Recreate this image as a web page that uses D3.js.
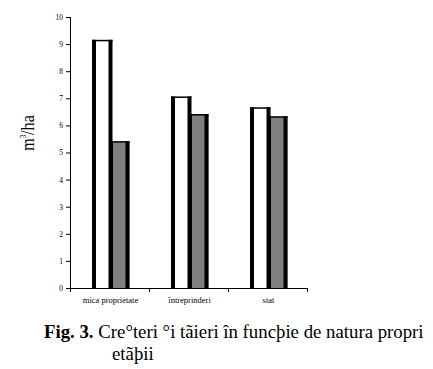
<!DOCTYPE html>
<html>
<head>
<meta charset="utf-8">
<script src="https://cdn.jsdelivr.net/npm/d3@7"></script>
<style>
  body { margin: 0; background: #fff; }
  svg { display: block; font-family: "Liberation Serif", "Times New Roman", serif; }
</style>
</head>
<body>
<div id="app"></div>
<script>
const categories = ['mica proprietate', 'întreprinderi', 'stat'];
const seriesNames = ['cresteri', 'taieri'];
const cresteri = [9.14, 7.05, 6.65];
const taieri = [5.4, 6.4, 6.32];
const yTicks = [0, 1, 2, 3, 4, 5, 6, 7, 8, 9, 10];
const seriesColors = ['#ffffff', '#808080'];

const w = 433;
const h = 369;
const padLeft = 70, padRight = 307, padTop = 17, padBottom = 288;
const side = 4;      // thick left/right bar border
const barW = 20.5;   // outer width of one bar

const svg = d3.select('#app')
  .append('svg')
  .attr('width', w)
  .attr('height', h);

const xScale = d3.scaleBand()
  .domain(categories)
  .range([padLeft, padRight]);

const xInner = d3.scaleBand()
  .domain(seriesNames)
  .range([0, 34]);

const yScale = d3.scaleLinear()
  .domain([0, 10])
  .range([padBottom, padTop]);

const rows = categories.map((c, i) => ({ cat: c, values: [cresteri[i], taieri[i]] }));

const groups = svg.selectAll('g.grp')
  .data(rows)
  .enter()
  .append('g')
  .attr('class', 'grp')
  .attr('transform', (d) => 'translate(' + (xScale(d.cat) + 22) + ',0)');

const bars = groups.selectAll('g.bar')
  .data((d) => d.values.map((v, j) => ({ s: seriesNames[j], v: v, j: j })))
  .enter()
  .append('g')
  .attr('class', 'bar');

bars.append('rect')
  .attr('x', (d) => xInner(d.s))
  .attr('y', (d) => yScale(d.v))
  .attr('width', barW)
  .attr('height', (d) => padBottom - yScale(d.v))
  .attr('fill', (d) => seriesColors[d.j]);

// thin top edge
bars.append('rect')
  .attr('x', (d) => xInner(d.s))
  .attr('y', (d) => yScale(d.v) - 0.5)
  .attr('width', barW)
  .attr('height', 1.5)
  .attr('fill', '#000');

// thick side edges
bars.append('rect')
  .attr('x', (d) => xInner(d.s))
  .attr('y', (d) => yScale(d.v) - 0.5)
  .attr('width', side)
  .attr('height', (d) => padBottom - yScale(d.v) + 0.5)
  .attr('fill', '#000');
bars.append('rect')
  .attr('x', (d) => xInner(d.s) + barW - side)
  .attr('y', (d) => yScale(d.v) - 0.5)
  .attr('width', side)
  .attr('height', (d) => padBottom - yScale(d.v) + 0.5)
  .attr('fill', '#000');

const yAxis = d3.axisLeft(yScale).tickValues(yTicks).tickSize(4).tickPadding(3);
const xAxis = d3.axisBottom(xScale).tickSize(0).tickPadding(9);

const gy = svg.append('g')
  .attr('transform', 'translate(' + padLeft + ',0)')
  .call(yAxis);
gy.select('.domain').attr('d', 'M0.5,' + padTop + 'V' + padBottom);
gy.selectAll('text').style('font-size', '7.5px').style('font-family', '"Liberation Serif", serif');

const gx = svg.append('g')
  .attr('transform', 'translate(0,' + padBottom + ')')
  .call(xAxis);
gx.select('.domain').attr('d', 'M' + padLeft + ',0.5H' + padRight);
gx.selectAll('text')
  .style('font-size', '8.5px')
  .style('font-family', '"Liberation Serif", serif')
  .attr('dx', 1);

// boundary ticks between categories
const bounds = categories.map((c) => xScale(c)).concat([padRight]);
gx.selectAll('line.bound')
  .data(bounds)
  .enter()
  .append('line')
  .attr('class', 'bound')
  .attr('x1', (d) => d + 0.5)
  .attr('x2', (d) => d + 0.5)
  .attr('y1', 0)
  .attr('y2', 4)
  .attr('stroke', '#000');

// y label (glyphs a little condensed along the text direction)
const ylab = svg.append('text')
  .attr('transform', 'translate(34,133) rotate(-90) scale(0.85,1)')
  .attr('text-anchor', 'middle')
  .style('font-size', '19px');
ylab.append('tspan').text('m');
ylab.append('tspan').attr('dy', -8).style('font-size', '8px').text('3');
ylab.append('tspan').attr('dy', 8).text('/ha');

// caption
const cap = svg.append('text')
  .attr('x', 44)
  .attr('y', 338)
  .style('font-size', '18.8px');
cap.append('tspan').style('font-weight', 'bold').text('Fig. 3. ');
cap.append('tspan').text('Cre°teri °i tãieri în funcþie de natura propri');
svg.append('text')
  .attr('x', 112)
  .attr('y', 360)
  .style('font-size', '18.8px')
  .text('etãþii');
</script>
</body>
</html>
